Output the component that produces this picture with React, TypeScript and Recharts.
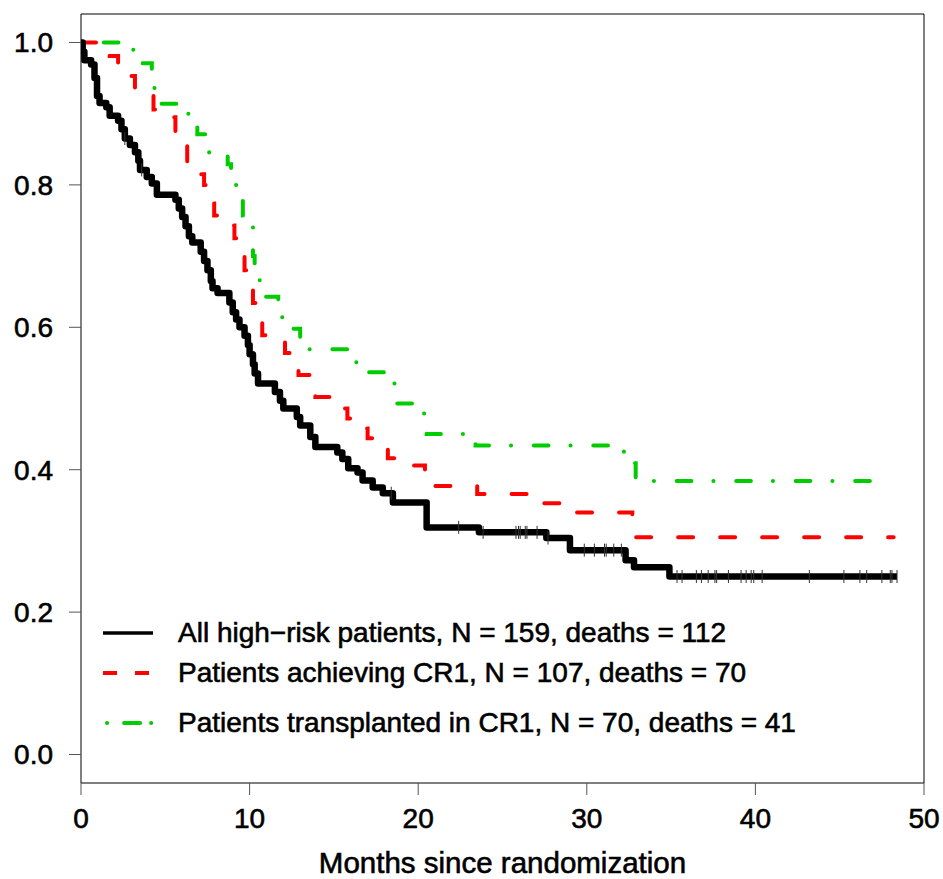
import React from 'react'
import { ComposedChart, Line, Scatter, XAxis, YAxis, ReferenceArea, Label } from 'recharts'

// all high-risk patients (black)
const allTimes = [0, 0.1, 0.2, 0.6, 0.8, 0.95, 1.1, 1.5, 1.7, 2.2, 2.4, 2.6, 2.9, 3.2, 3.4, 3.5, 3.9, 4.2, 4.5,
    5.6, 5.8, 6.0, 6.2, 6.4, 6.6, 7.1, 7.3, 7.5, 7.7, 7.8, 8.1, 8.8, 9.0, 9.2, 9.4, 9.7, 9.9, 10.0, 10.2, 10.3, 10.5,
    11.5, 11.8, 12.0, 12.8, 13.0, 13.6, 13.9, 15.2, 15.5, 15.85, 16.4, 16.7, 17.3, 17.9, 18.5,
    20.5, 23.6, 27.6, 29.0, 32.3, 32.8, 34.9, 48.4]
const allSurv = [1.0, 0.987, 0.975, 0.969, 0.95, 0.925, 0.915, 0.909, 0.897, 0.89, 0.878, 0.865, 0.856, 0.846, 0.834, 0.821, 0.811, 0.802, 0.786,
    0.779, 0.767, 0.755, 0.742, 0.728, 0.719, 0.706, 0.693, 0.68, 0.665, 0.655, 0.648, 0.635, 0.621, 0.611, 0.6, 0.588, 0.575, 0.562, 0.548, 0.535, 0.521,
    0.509, 0.497, 0.486, 0.474, 0.462, 0.446, 0.432, 0.424, 0.415, 0.402, 0.396, 0.385, 0.375, 0.367, 0.354,
    0.319, 0.312, 0.304, 0.287, 0.273, 0.263, 0.25, 0.25]
const allCensored = [2.6, 3.6, 18.4, 22.4, 23.85, 25.8, 25.95, 26.05, 26.35, 26.45, 27.05, 27.7, 29.85, 30.45, 31.05, 31.15, 31.6, 32.05,
    35.35, 35.65, 36.5, 36.8, 37.2, 37.6, 37.7, 38.4, 39.15, 39.45, 39.75, 39.9, 40.4, 43.2, 45.25, 46.2, 46.6, 47.5, 48.0, 48.1, 48.4]

// patients achieving CR1 (red)
const cr1Times = [0, 1.7, 2.2, 2.8, 3.2, 4.1, 4.3, 5.4, 5.6, 6.0, 6.3, 6.9, 7.3, 7.6, 7.9, 8.7, 9.1, 9.4, 9.7, 9.95, 10.2, 10.45, 10.75,
    11.8, 12.1, 12.9, 13.9, 14.8, 15.8, 16.4, 17.0, 17.9, 18.2, 18.7, 20.4, 23.5, 27.4, 28.5, 32.7, 48.2]
const cr1Surv = [1.0, 0.981, 0.972, 0.953, 0.935, 0.925, 0.906, 0.895, 0.874, 0.855, 0.832, 0.815, 0.8, 0.774, 0.757, 0.743, 0.725, 0.7, 0.68, 0.655, 0.634, 0.607, 0.589,
    0.58, 0.564, 0.533, 0.502, 0.486, 0.472, 0.458, 0.444, 0.432, 0.416, 0.406, 0.377, 0.366, 0.353, 0.34, 0.305, 0.305]

// patients transplanted in CR1 (green)
const sctTimes = [0, 3.1, 3.5, 4.2, 4.3, 4.5, 6.0, 6.4, 6.9, 7.4, 7.6, 8.7, 8.9, 9.1, 9.35, 9.6, 10.0, 10.2, 10.3, 10.5, 10.6,
    11.7, 11.9, 12.1, 13.0, 13.3, 16.0, 16.5, 18.0, 18.6, 19.8, 20.4, 20.5, 23.4, 32.2, 32.9, 47.8]
const sctSurv = [1.0, 0.986, 0.971, 0.957, 0.936, 0.914, 0.9, 0.886, 0.871, 0.857, 0.843, 0.829, 0.814, 0.8, 0.786, 0.757, 0.743, 0.7, 0.686, 0.671, 0.643,
    0.629, 0.614, 0.598, 0.586, 0.569, 0.551, 0.537, 0.521, 0.493, 0.479, 0.465, 0.45, 0.434, 0.409, 0.384, 0.384]

const xTicks = [0, 10, 20, 30, 40, 50]
const yTicks = [0, 0.2, 0.4, 0.6, 0.8, 1.0]
const seriesNames = [
    'All high\u2212risk patients, N = 159, deaths = 112',
    'Patients achieving CR1, N = 107, deaths = 70',
    'Patients transplanted in CR1, N = 70, deaths = 41',
]

const toRows = (times: number[], surv: number[]) => times.map((t, i) => ({ t, s: surv[i] }))

const allData = toRows(allTimes, allSurv)
const cr1Data = toRows(cr1Times, cr1Surv)
const sctData = toRows(sctTimes, sctSurv)

// survival of the black curve at a censoring time
const survAt = (t: number) => {
    let s = allSurv[0]
    for (let i = 0; i < allTimes.length; i++) {
        if (allTimes[i] <= t) s = allSurv[i]
    }
    return s
}
const censorData = allCensored.map(t => ({ t, s: survAt(t) }))

const FONT = '"Liberation Sans", Arial, Helvetica, sans-serif'
const GREEN_DASH = '0.1 22.7 14.7 22'
const TEXT_STYLE = { fontSize: 28, fill: '#000', stroke: '#000', strokeWidth: 0.6 }

const CensorMark = (props: any) => {
    const { cx, cy } = props
    if (cx == null || cy == null) return null
    return <line x1={cx} x2={cx} y1={cy - 6.5} y2={cy + 6.5} stroke="#333" strokeWidth={1} />
}

function LegendBox() {
    const row = (top: number, sample: React.ReactNode, text: string) => (
        <div style={{ position: 'absolute', left: 98, top: top - 16, height: 32, display: 'flex', alignItems: 'center' }}>
            <svg width={60} height={12} style={{ display: 'block' }}>{sample}</svg>
            <span style={{ marginLeft: 20, fontSize: 28, lineHeight: '32px', color: '#000', whiteSpace: 'nowrap', WebkitTextStroke: '0.6px #000' }}>{text}</span>
        </div>
    )
    return (
        <div style={{ position: 'absolute', left: 0, top: 0, fontFamily: FONT, pointerEvents: 'none' }}>
            {row(633, <line x1={5} x2={55} y1={6} y2={6} stroke="#000" strokeWidth={3.5} />, seriesNames[0])}
            {row(673, <line x1={5} x2={51} y1={6} y2={6} stroke="#ff0000" strokeWidth={4} strokeDasharray="14 18" />, seriesNames[1])}
            {row(723, <line x1={9} x2={56} y1={6} y2={6} stroke="#00cc00" strokeWidth={4} strokeLinecap="round" strokeDasharray="0.1 17 16 11" />, seriesNames[2])}
        </div>
    )
}

export default function App() {
    return (
        <div style={{ position: 'absolute', left: 0, top: 0, width: 943, height: 879, background: '#fff', fontFamily: FONT }}>
            <ComposedChart width={943} height={879} margin={{ top: 14, right: 19, bottom: 0, left: 0 }} style={{ fontFamily: FONT }}>
                <XAxis
                    type="number"
                    dataKey="t"
                    domain={[0, 50]}
                    ticks={xTicks}
                    allowDataOverflow
                    height={96}
                    axisLine={false}
                    tickSize={12}
                    tickMargin={13}
                    tickLine={{ stroke: '#555' }}
                    tick={TEXT_STYLE}
                >
                    <Label value="Months since randomization" position="insideBottom" offset={6} style={{ fontSize: 29.5, fill: '#000', stroke: '#000', strokeWidth: 0.6, fontFamily: FONT }} />
                </XAxis>
                <YAxis
                    type="number"
                    domain={[-0.04, 1.04]}
                    ticks={yTicks}
                    allowDataOverflow
                    width={81}
                    axisLine={false}
                    tickSize={12}
                    tickMargin={16}
                    tickLine={{ stroke: '#555' }}
                    tick={TEXT_STYLE}
                    tickFormatter={(v: number) => v.toFixed(1)}
                />
                <ReferenceArea x1={0} x2={50} y1={-0.04} y2={1.04} stroke="#000" strokeWidth={1} fill="none" fillOpacity={0} />
                <Line
                    data={sctData}
                    dataKey="s"
                    type="stepAfter"
                    stroke="#00cc00"
                    strokeWidth={4}
                    strokeDasharray={GREEN_DASH}
                    strokeLinecap="round"
                    dot={false}
                    activeDot={false}
                    isAnimationActive={false}
                />
                <Line
                    data={cr1Data}
                    dataKey="s"
                    type="stepAfter"
                    stroke="#ff0000"
                    strokeWidth={4}
                    strokeDasharray="15 27"
                    strokeLinecap="round"
                    dot={false}
                    activeDot={false}
                    isAnimationActive={false}
                />
                <Line
                    data={allData}
                    dataKey="s"
                    type="stepAfter"
                    stroke="#000"
                    strokeWidth={6.5}
                    strokeLinejoin="round"
                    dot={false}
                    activeDot={false}
                    isAnimationActive={false}
                />
                <Scatter data={censorData} dataKey="s" shape={CensorMark} isAnimationActive={false} />
            </ComposedChart>
            <LegendBox />
        </div>
    )
}
